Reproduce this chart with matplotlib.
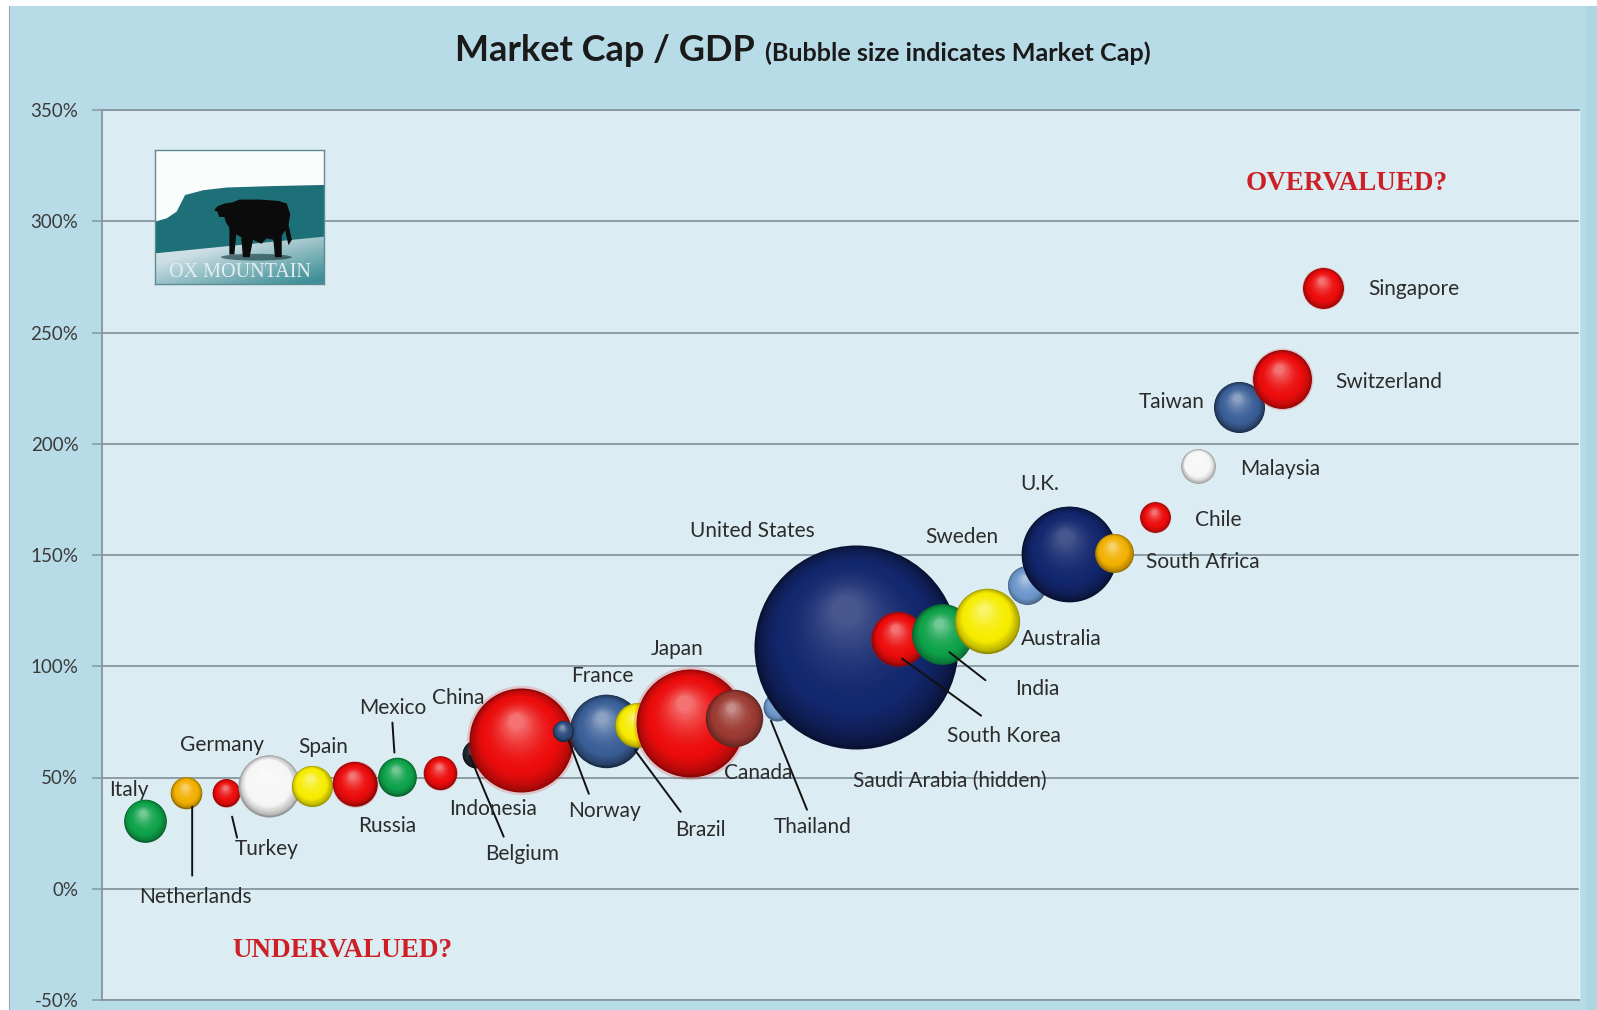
import numpy as np
import matplotlib
matplotlib.use("Agg")
import matplotlib.pyplot as plt
import matplotlib.colors as mcolors
from matplotlib.patches import Rectangle, Polygon, Ellipse
from matplotlib.lines import Line2D
from matplotlib.transforms import ScaledTranslation
from matplotlib.ticker import FixedLocator, FuncFormatter

# ---------------------------------------------------------------- data
countries = [
    "Italy", "Netherlands", "Turkey", "Germany", "Spain", "Russia", "Mexico",
    "Indonesia", "Belgium", "China", "France", "Norway", "Brazil", "Japan",
    "Canada", "Thailand", "Saudi Arabia", "United States", "South Korea",
    "India", "Australia", "Sweden", "U.K.", "South Africa", "Chile",
    "Malaysia", "Taiwan", "Switzerland", "Singapore",
]
# horizontal placement of each bubble (ordinal spread, the axis itself is not shown)
spread = [
    2.9, 5.7, 8.4, 11.3, 14.2, 17.1, 20.0,
    22.9, 25.3, 28.4, 34.1, 31.2, 36.2, 39.8,
    42.8, 45.7, 50.6, 51.05, 53.9,
    56.9, 59.9, 62.6, 65.5, 68.5, 71.3,
    74.2, 77.0, 79.9, 82.7,
]
# market capitalisation as % of GDP
cap_to_gdp = [
    30.6, 43.2, 43.2, 46.3, 46.3, 47.2, 50.4,
    52.2, 60.7, 66.8, 71.0, 71.0, 73.7, 74.6,
    76.8, 81.8, 103.0, 108.8, 112.4,
    114.4, 120.5, 136.4, 150.6, 151.0, 167.0,
    190.0, 216.5, 228.9, 270.0,
]
# market capitalisation, USD trillions (bubble area)
market_cap = [
    0.82, 0.45, 0.34, 1.73, 0.76, 0.89, 0.67,
    0.50, 0.35, 4.86, 2.42, 0.20, 0.90, 5.24,
    1.48, 0.35, 0.72, 18.7, 1.31,
    1.67, 1.91, 0.68, 4.12, 0.68, 0.42,
    0.54, 1.17, 1.56, 0.75,
]
y_ticks = [-50, 0, 50, 100, 150, 200, 250, 300, 350]

# ---------------------------------------------------------------- styling
RED, NAVY, BLUE, NORWAY_BLUE = "#ec0c0c", "#13276e", "#3a5f98", "#2c4c7c"
LIGHTBLUE, GREEN, YELLOW = "#6d97cc", "#0ea24a", "#f6ec00"
GOLD, WHITE, BROWN, DARK = "#f2b000", "#f6f6f6", "#9c3b33", "#1d2530"
bubble_colour = {
    "Italy": GREEN, "Netherlands": GOLD, "Turkey": RED, "Germany": WHITE,
    "Spain": YELLOW, "Russia": RED, "Mexico": GREEN, "Indonesia": RED,
    "Belgium": DARK, "China": RED, "France": BLUE, "Norway": NORWAY_BLUE,
    "Brazil": YELLOW, "Japan": RED, "Canada": BROWN, "Thailand": LIGHTBLUE,
    "Saudi Arabia": GREEN, "United States": NAVY, "South Korea": RED,
    "India": GREEN, "Australia": YELLOW, "Sweden": LIGHTBLUE, "U.K.": NAVY,
    "South Africa": GOLD, "Chile": RED, "Malaysia": WHITE, "Taiwan": BLUE,
    "Switzerland": RED, "Singapore": RED,
}
# label text offset from bubble centre, in pixels (x right, y up)
label_offset = {
    "Italy": (-16, 31), "Netherlands": (9, -104), "Turkey": (41, -56),
    "Germany": (-47, 41), "Spain": (11, 39), "Russia": (33, -42),
    "Mexico": (-5, 69), "Indonesia": (53, -36), "Belgium": (46, -100),
    "China": (-63, 42), "France": (-3, 55), "Norway": (42, -80),
    "Brazil": (64, -105), "Japan": (-13, 74), "Canada": (24, -55),
    "Thailand": (36, -120), "Saudi Arabia": (100, -121),
    "United States": (-104, 116), "South Korea": (106, -97),
    "India": (95, -55), "Australia": (75, -18), "Sweden": (-65, 48),
    "U.K.": (-30, 70), "South Africa": (89, -9), "Chile": (63, -3),
    "Malaysia": (82, -3), "Taiwan": (-68, 5), "Switzerland": (107, -3),
    "Singapore": (90, -1),
}
label_text = {"Saudi Arabia": "Saudi Arabia (hidden)"}
# leader lines: (start dx, start dy, end dx, end dy) in pixels from bubble centre
leaders = {
    "Netherlands": (6, -14, 6, -83),
    "Turkey": (6, -24, 11, -45),
    "Mexico": (-5, 54, -3, 24),
    "Belgium": (-6, -2, 28, -83),
    "Norway": (6, -10, 26, -63),
    "Brazil": (-2, -25, 44, -87),
    "Thailand": (-6, -14, 30, -103),
    "South Korea": (4, -20, 83, -77),
    "India": (7, -18, 43, -46),
}

W, H, DPI = 1597, 1010, 100
SIZE_PER_TRILLION = 1154.0        # points^2 per USD trillion
OUTER_BG = "#b8dce7"
PLOT_BG = "#dbedf3"
GRID = "#86969e"
TEXT = "#2b2b2b"

plt.rcParams["font.family"] = ["Lato", "DejaVu Sans"]

fig = plt.figure(figsize=(W / DPI, H / DPI), dpi=DPI)
fig.patch.set_facecolor("white")
fig.patches.append(Rectangle((9 / W, 0), 1 - 9 / W, 1 - 6 / H, transform=fig.transFigure,
                             facecolor=OUTER_BG, edgecolor="none", zorder=-10))
fig.patches.append(Rectangle((1586 / W, 0), 11 / W, 1 - 6 / H, transform=fig.transFigure,
                             facecolor="#afd5e1", edgecolor="none", zorder=-9))
fig.lines.append(Line2D([8.5 / W, 8.5 / W], [0, 1 - 6 / H], transform=fig.transFigure,
                        color="#9aa8ad", lw=0.8, zorder=-9))

ax = fig.add_axes([102 / W, 1 - 1000 / H, 1477 / W, 890 / H])
ax.set_facecolor(PLOT_BG)
ax.set_xlim(0, 100)
ax.set_ylim(-50, 350)
ax.yaxis.set_major_locator(FixedLocator(y_ticks))
ax.yaxis.set_major_formatter(FuncFormatter(lambda v, _: f"{v:.0f}%"))
ax.set_xticks([])
ax.tick_params(axis="y", length=7, width=1.1, color=GRID, pad=10,
               labelsize=13.5, labelcolor="#3a3a3a")
ax.grid(axis="y", color=GRID, lw=1.3, zorder=0)
ax.set_axisbelow(True)
for side in ("top", "bottom", "left"):
    ax.spines[side].set_color(GRID)
    ax.spines[side].set_linewidth(1.3)
ax.spines["right"].set_color("#e8f4f8")
ax.spines["right"].set_linewidth(1.0)


def px_shift(dx, dy):
    return ax.transData + ScaledTranslation(dx / DPI, dy / DPI, fig.dpi_scale_trans)


def shade(rgb, t, strength, rim):
    dark = rgb * rim
    light = rgb + (1 - rgb) * strength
    if t < 0.3:
        u = t / 0.3
        return dark + (rgb - dark) * u ** 0.6
    u = (t - 0.3) / 0.7
    return rgb + (light - rgb) * u ** 1.8


def sphere(x, y, cap, colour, z):
    s = cap * SIZE_PER_TRILLION
    rgb = np.array(mcolors.to_rgb(colour))
    strength = 0.22 if colour == NAVY else 0.42
    rim = 0.45 if colour in (NAVY, BLUE, NORWAY_BLUE, DARK) else 0.6
    r_px = np.sqrt(s) / 2 * DPI / 72
    if colour == RED:
        ax.scatter([x], [y], s=s * 1.05 ** 2, color=RED, alpha=0.18,
                   linewidths=0, zorder=z)
    n = 34
    for i in range(n):
        t = i / (n - 1)
        f = 1 - 0.86 * t
        off = (1 - f) * r_px
        ax.scatter([x], [y], s=s * f * f,
                   color=np.clip(shade(rgb, t, strength, rim), 0, 1),
                   linewidths=0, zorder=z + i * 1e-4,
                   transform=px_shift(-0.12 * off, 0.42 * off))


for k, name in enumerate(countries):
    x, y = spread[k], cap_to_gdp[k]
    sphere(x, y, market_cap[k], bubble_colour[name], 3 + k * 0.01)
    dx, dy = label_offset[name]
    ax.annotate(label_text.get(name, name), xy=(x, y), xytext=(dx * 0.72, dy * 0.72),
                textcoords="offset points", ha="center", va="center",
                fontsize=15, color=TEXT, zorder=10)
    if name in leaders:
        sx, sy, ex, ey = leaders[name]
        ax.annotate("", xy=(x, y), xycoords=px_shift(sx, sy),
                    xytext=(x, y), textcoords=px_shift(ex, ey),
                    arrowprops=dict(arrowstyle="-", color="#111111", lw=1.4,
                                    shrinkA=0, shrinkB=0), zorder=9)

ax.text(0.843, 0.917, "OVERVALUED?", transform=ax.transAxes, ha="center", va="center",
        fontsize=19.5, fontweight="bold", color="#cc1f26", family="Liberation Serif")
ax.text(0.163, 0.056, "UNDERVALUED?", transform=ax.transAxes, ha="center", va="center",
        fontsize=19.5, fontweight="bold", color="#cc1f26", family="Liberation Serif")

# title
t1 = fig.text(455 / W, 1 - 61 / H, "Market Cap / GDP", fontsize=26, fontweight="bold",
              color="#1a1a1a", ha="left", va="baseline")
fig.canvas.draw()
bb = t1.get_window_extent()
fig.text((bb.x1 + 10) / W, 1 - 61 / H, "(Bubble size indicates Market Cap)", fontsize=18.2,
         fontweight="bold", color="#1a1a1a", ha="left", va="baseline")

# ---------------------------------------------------------------- logo
lax = fig.add_axes([155 / W, 1 - 284 / H, 169 / W, 134 / H])
lax.set_xlim(0, 1)
lax.set_ylim(0, 1)
lax.set_xticks([])
lax.set_yticks([])
for sp in lax.spines.values():
    sp.set_color("#5f8b90")
    sp.set_linewidth(1.0)
lax.set_facecolor("#fbfdfd")
gx, gy = np.meshgrid(np.linspace(0, 1, 120), np.linspace(0.4, 0, 60))
w = np.clip(0.75 * gx + 0.8 * (1 - gy / 0.36) - 0.45, 0, 1)
light = np.array(mcolors.to_rgb("#cfe0e5"))
teal = np.array(mcolors.to_rgb("#3f8f98"))
ground = light[None, None, :] * (1 - w[..., None]) + teal[None, None, :] * w[..., None]
lax.imshow(ground, extent=(0, 1, 0, 0.4), aspect="auto", zorder=1)
mountain = [(0, 0.465), (0.069, 0.49), (0.128, 0.54), (0.158, 0.614), (0.178, 0.664),
            (0.286, 0.70), (0.424, 0.72), (0.70, 0.731), (1.0, 0.739),
            (1.0, 0.353), (0, 0.229)]
lax.add_patch(Polygon(mountain, closed=True, facecolor="#1d6f78", edgecolor="none", zorder=2))
bull = [(0.35, 0.55), (0.37, 0.58), (0.41, 0.60), (0.46, 0.61), (0.50, 0.63),
        (0.62, 0.63), (0.73, 0.62), (0.78, 0.60), (0.80, 0.52), (0.79, 0.44),
        (0.81, 0.33), (0.79, 0.29), (0.77, 0.40), (0.75, 0.36), (0.75, 0.20),
        (0.71, 0.20), (0.70, 0.33), (0.66, 0.34), (0.63, 0.30), (0.58, 0.33),
        (0.56, 0.20), (0.52, 0.20), (0.51, 0.35), (0.48, 0.37), (0.47, 0.22),
        (0.44, 0.22), (0.44, 0.42), (0.42, 0.46), (0.41, 0.50), (0.38, 0.50),
        (0.37, 0.54)]
lax.add_patch(Ellipse((0.6, 0.20), 0.42, 0.05, facecolor="#0e3338", alpha=0.6,
                      edgecolor="none", zorder=3))
lax.add_patch(Polygon(bull, closed=True, facecolor="#0b0b0b", edgecolor="none", zorder=4))
lax.text(0.5, 0.085, "OX MOUNTAIN", ha="center", va="center", fontsize=14.5,
         family="Liberation Serif", color="#e4eef0", zorder=5)

fig.savefig("out.png", dpi=DPI)
